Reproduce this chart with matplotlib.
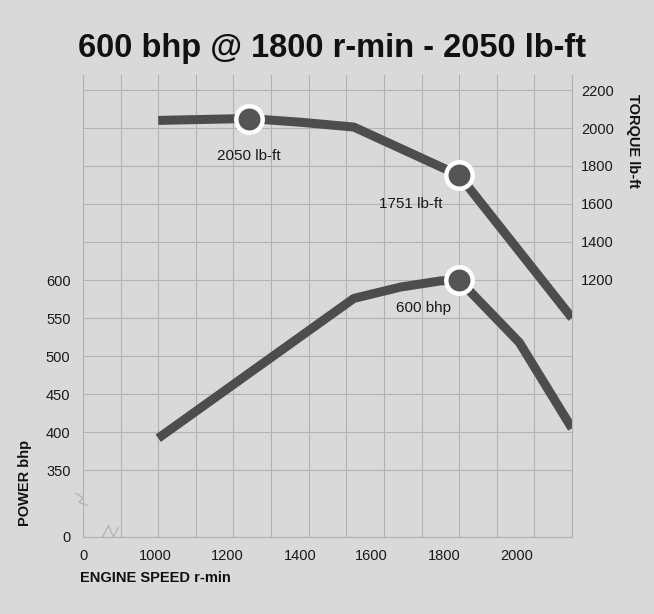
import matplotlib.pyplot as plt

plt.rcParams['font.family'] = ['Liberation Sans', 'DejaVu Sans']

# engine speed (r-min) and curves
torque_rpm = [1000, 1240, 1380, 1520, 1800, 2100]
torque_lbft = [2040, 2050, 2030, 2005, 1751, 1000]

power_rpm = [1000, 1520, 1645, 1750, 1800, 1960, 2100]
power_bhp = [392, 576, 591, 599, 600, 518, 405]

# highlighted points
torque_peaks = [(1240, 2050, "2050 lb-ft"), (1800, 1751, "1751 lb-ft")]
power_peak = (1800, 600, "600 bhp")

# axis ticks (the axes are broken: "0" sits where 800 rpm / ~262 bhp / -153 lb-ft would be)
x_label_pos = [800, 991, 1183, 1377, 1566, 1760, 1954]
x_labels = ["0", "1000", "1200", "1400", "1600", "1800", "2000"]
x_grid = list(range(800, 2101, 100))
power_ticks = [262, 350, 400, 450, 500, 550, 600]
power_labels = ["0", "350", "400", "450", "500", "550", "600"]
power_grid = list(range(650, 851, 50))
torque_ticks = [1200, 1400, 1600, 1800, 2000, 2200]

bg = '#d9d9d9'
line_col = '#4d4d4d'
grid_col = '#b3b3b3'

fig = plt.figure(figsize=(6.54, 6.14), dpi=100, facecolor=bg)
ax = fig.add_axes([83 / 654, 77 / 614, 489 / 654, 462 / 614])
ax.set_facecolor(bg)
ax2 = ax.twinx()

ax.set_xlim(800, 2100)
ax.set_ylim(262, 870)
ax2.set_ylim(-153, 2279)

# grid
ax.set_xticks(x_grid, minor=True)
ax.set_yticks(power_grid, minor=True)
ax.xaxis.grid(True, which='minor', color=grid_col, lw=0.8)
ax.yaxis.grid(True, which='both', color=grid_col, lw=0.8)
ax.set_axisbelow(True)

ax.set_xticks(x_label_pos)
ax.set_xticklabels(x_labels, fontsize=10.5, color='#1a1a1a')
ax.set_yticks(power_ticks)
ax.set_yticklabels(power_labels, fontsize=10.5, color='#1a1a1a')
ax.tick_params(which='both', length=0)
ax.tick_params(axis='x', pad=9)
ax.tick_params(axis='y', pad=9)

ax2.set_yticks(torque_ticks)
ax2.set_yticklabels([str(t) for t in torque_ticks], fontsize=10.5, color='#1a1a1a', ha='right')
ax2.tick_params(length=0, pad=30)

for a in (ax, ax2):
    for s in a.spines.values():
        s.set_color(grid_col)
        s.set_linewidth(0.8)
    a.spines['top'].set_visible(False)

# curves
ax2.plot(torque_rpm, torque_lbft, color=line_col, lw=6.5, solid_capstyle='butt',
         solid_joinstyle='round', zorder=3)
ax.plot(power_rpm, power_bhp, color=line_col, lw=6.5, solid_capstyle='butt',
        solid_joinstyle='round', zorder=3)

mk = dict(marker='o', ms=19, mfc='#555555', mec='white', mew=3.2, ls='none', zorder=5,
          clip_on=False)
for x, y, _ in torque_peaks:
    ax2.plot([x], [y], **mk)
ax.plot([power_peak[0]], [power_peak[1]], **mk)

ax2.annotate(torque_peaks[0][2], (torque_peaks[0][0], torque_peaks[0][1]),
             xytext=(0, -27), textcoords='offset points', ha='center', va='center',
             fontsize=11, color='#1a1a1a')
ax2.annotate(torque_peaks[1][2], (torque_peaks[1][0], torque_peaks[1][1]),
             xytext=(-35, -21), textcoords='offset points', ha='center', va='center',
             fontsize=11, color='#1a1a1a')
ax.annotate(power_peak[2], (power_peak[0], power_peak[1]),
            xytext=(-26, -20), textcoords='offset points', ha='center', va='center',
            fontsize=11, color='#1a1a1a')

# axis break marks
ax.plot([-0.015, 0.0, -0.008, 0.01], [0.095, 0.085, 0.075, 0.068], transform=ax.transAxes,
        color=grid_col, lw=0.9, clip_on=False)
ax.plot([0.04, 0.052, 0.062, 0.072], [0.0, 0.025, 0.0, 0.02], transform=ax.transAxes,
        color=grid_col, lw=0.9, clip_on=False)

fig.text(0.507, 1 - 48 / 614, "600 bhp @ 1800 r-min - 2050 lb-ft", ha='center', va='center',
         fontsize=23.5, fontweight='bold', color='#111111')
fig.text(80 / 654, 1 - 578 / 614, "ENGINE SPEED r-min", ha='left', va='center',
         fontsize=10.5, fontweight='bold', color='#111111')
fig.text(25 / 654, 1 - 483 / 614, "POWER bhp", rotation=90, ha='center', va='center',
         fontsize=10.5, fontweight='bold', color='#111111')
fig.text(633 / 654, 1 - 141 / 614, "TORQUE lb-ft", rotation=270, ha='center', va='center',
         fontsize=10.5, fontweight='bold', color='#111111')

fig.savefig('out.png', dpi=100, facecolor=bg)
